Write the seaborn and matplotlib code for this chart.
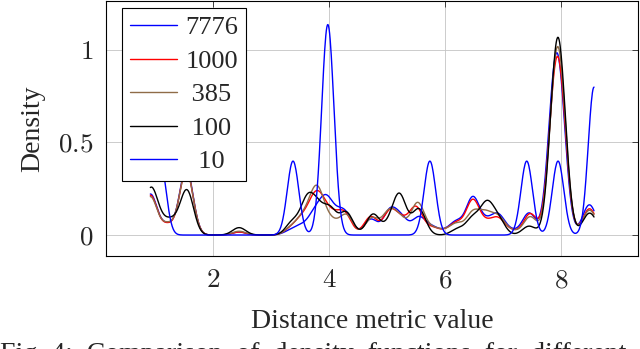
import numpy as np
import pandas as pd
import matplotlib
matplotlib.use("Agg")
import matplotlib.pyplot as plt
import seaborn as sns

# ==========================================
# Data: observed distance metric values and how often each one occurs
# ==========================================
values_7776 = [0.92, 1.22, 1.54, 2.45, 3.33, 3.52, 3.75, 3.95, 4.15, 4.30, 4.72, 5.05, 5.25,
               5.55, 5.78, 6.00, 6.20, 6.48, 6.72, 6.92, 7.15, 7.45, 7.87, 7.99, 8.48, 8.57]
counts_7776 = [52, 13, 85, 4, 5, 10, 25, 42, 18, 22, 20, 30, 20,
               22, 9, 4, 16, 47, 14, 24, 5, 28, 135, 132, 34, 6]

values_1000 = [0.92, 1.22, 1.54, 2.45, 3.33, 3.52, 3.72, 3.85, 4.00, 4.12, 4.28, 4.72, 5.05, 5.25,
               5.50, 5.78, 6.00, 6.20, 6.48, 6.72, 6.92, 7.15, 7.47, 7.88, 8.00, 8.48, 8.57]
counts_1000 = [52, 13, 85, 4, 7, 18, 32, 32, 15, 13, 25, 24, 30, 17,
               36, 9, 4, 15, 45, 13, 20, 5, 28, 135, 135, 30, 6]

values_385 = [0.92, 1.22, 1.54, 2.45, 3.35, 3.55, 3.75, 3.85, 4.05, 4.30, 4.74, 5.03, 5.22,
              5.53, 5.80, 6.00, 6.20, 6.48, 6.70, 6.92, 7.15, 7.47, 7.89, 8.00, 8.48, 8.57]
counts_385 = [50, 14, 85, 5, 9, 20, 40, 28, 15, 26, 22, 28, 20,
              42, 8, 4, 14, 28, 25, 22, 5, 24, 140, 138, 28, 6]

values_100 = [0.92, 1.00, 1.15, 1.30, 1.55, 2.45, 3.37, 3.62, 3.80, 4.02, 4.30, 4.76,
              5.05, 5.22, 5.55, 6.22, 6.48, 6.72, 6.92, 7.45, 7.90, 8.00, 8.48, 8.57]
counts_100 = [55, 10, 10, 15, 60, 10, 17, 44, 32, 33, 30, 28,
              12, 52, 35, 8, 22, 40, 20, 12, 152, 142, 25, 6]

values_10 = [1.09, 3.38, 3.94, 3.98, 4.02, 5.74, 7.41, 7.95, 8.57]
counts_10 = [1, 1, 1, 1, 1, 1, 1, 1, 2]

sample_labels = ["7776", "1000", " 385", " 100", "  10"]
line_colors = ["#0000ff", "#ff0000", "#8f6c48", "#000000", "#0000ff"]
bandwidths = [0.115, 0.115, 0.115, 0.115, 0.1]

x_ticks = [2, 4, 6, 8]
y_ticks = [0, 0.5, 1]

# ==========================================
# Style
# ==========================================
sns.set_style("white")
plt.rcParams["font.family"] = ["Liberation Serif", "DejaVu Serif"]
plt.rcParams["mathtext.fontset"] = "cm"

fig, ax = plt.subplots(figsize=(6.4, 3.49), dpi=100)
fig.subplots_adjust(left=0.1656, right=0.997, bottom=0.2665, top=0.997)

# ==========================================
# Density curves
# ==========================================
series = [
    (values_7776, counts_7776),
    (values_1000, counts_1000),
    (values_385, counts_385),
    (values_100, counts_100),
    (values_10, counts_10),
]

for (vals, cnts), label, color, bw in zip(series, sample_labels, line_colors, bandwidths):
    df = pd.DataFrame({"value": vals, "count": cnts})
    std = np.sqrt(np.cov(df["value"], aweights=df["count"]))
    sns.kdeplot(
        data=df,
        x="value",
        weights="count",
        bw_method=bw / std,
        cut=0,
        gridsize=800,
        color=color,
        linewidth=1.0,
        label=label,
        ax=ax
    )

# ==========================================
# Axes
# ==========================================
ax.set_xlim(0.155, 9.33)
ax.set_ylim(-0.113, 1.262)

ax.set_xticks(x_ticks)
ax.set_xticklabels([f"${t}$" for t in x_ticks])
ax.set_yticks(y_ticks)
ax.set_yticklabels([f"${t}$" for t in y_ticks])

ax.tick_params(direction="in", top=True, right=True, length=4, width=0.6,
               labelsize=19.5, pad=9)
ax.grid(True, color="#c4c4c4", linewidth=0.6)

for spine in ax.spines.values():
    spine.set_color("black")
    spine.set_linewidth(0.8)

ax.set_xlabel("Distance metric value", fontsize=20, labelpad=11)
ax.set_ylabel("Density", fontsize=20, labelpad=9)

leg = ax.legend(
    loc="upper left",
    bbox_to_anchor=(0.03, 0.9725),
    borderaxespad=0,
    fontsize=19,
    fancybox=False,
    edgecolor="black",
    framealpha=1,
    handlelength=1.8,
    handletextpad=0.3,
    borderpad=0.3,
    labelspacing=0.38
)
leg.get_frame().set_linewidth(0.8)

fig.text(0.0, -0.035, "Fig. 4:  Comparison  of  density  functions  for  different",
         fontsize=20, va="baseline", ha="left")

fig.savefig("out.png", dpi=100)
